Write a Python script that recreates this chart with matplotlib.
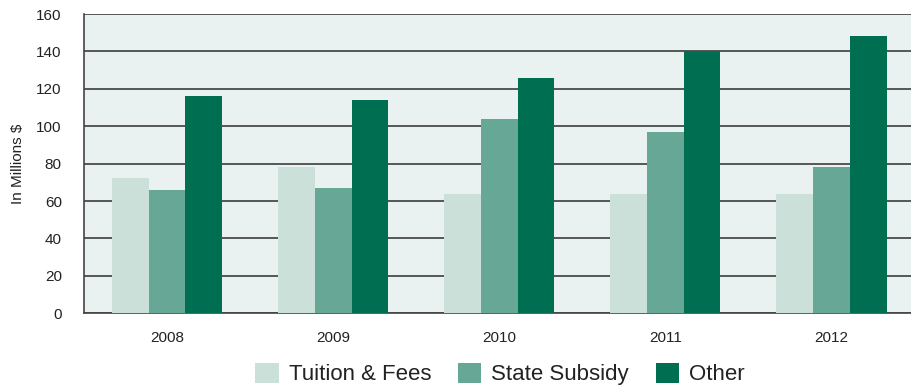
import matplotlib
matplotlib.use("Agg")
import matplotlib.pyplot as plt
import numpy as np
from matplotlib.patches import Patch

years = ["2008", "2009", "2010", "2011", "2012"]
tuition_fees = [72.5, 78.2, 64, 64, 64]
state_subsidy = [66, 67, 104, 97, 78.2]
other = [116, 114, 126, 140, 148]
series_names = ["Tuition & Fees", "State Subsidy", "Other"]
y_ticks = [0, 20, 40, 60, 80, 100, 120, 140, 160]

colors = ["#CAE0D8", "#66A796", "#006E50"]

plt.rcParams["font.family"] = ["Liberation Sans", "DejaVu Sans"]

fig = plt.figure(figsize=(9.12, 3.87), dpi=100)
W, H = 912, 387
left, right, top, bottom = 84, 914.5, 14, 313.3
ax = fig.add_axes([left / W, 1 - bottom / H, (right - left) / W, (bottom - top) / H])
ax.set_facecolor("#E9F2F0")

x = np.arange(len(years))
bw = 0.221
for i, (vals, c) in enumerate(zip([tuition_fees, state_subsidy, other], colors)):
    ax.bar(x + (i - 1) * bw, vals, width=bw, color=c, zorder=3, linewidth=0)

ax.set_xlim(-0.5, 4.5)
ax.set_ylim(0, 160)
ax.set_yticks(y_ticks)
ax.set_xticks(x)
ax.set_xticklabels(years)
ax.tick_params(axis="both", length=0, labelsize=11, colors="#222222")
ax.tick_params(axis="y", pad=16)
ax.tick_params(axis="x", pad=13)
ax.yaxis.grid(True, color="#2e2e2e", linewidth=1.1, zorder=1)
ax.set_axisbelow(True)

for side in ["top", "right"]:
    ax.spines[side].set_visible(False)
for side in ["left", "bottom"]:
    ax.spines[side].set_color("#444444")
    ax.spines[side].set_linewidth(1.2)

fig.text(18 / W, 1 - 164 / H, "In Millions $", rotation=90, ha="center", va="center",
         fontsize=11, color="#222222")

handles = [Patch(facecolor=c, edgecolor="none") for c in colors]
fig.legend(handles, series_names, loc="center", bbox_to_anchor=(500 / W, 1 - 374 / H),
           ncol=3, frameon=False, fontsize=16, handlelength=1.05, handleheight=1.05,
           handletextpad=0.45, columnspacing=1.2, borderpad=0, labelcolor="#222222")

fig.savefig("out.png", dpi=100)
